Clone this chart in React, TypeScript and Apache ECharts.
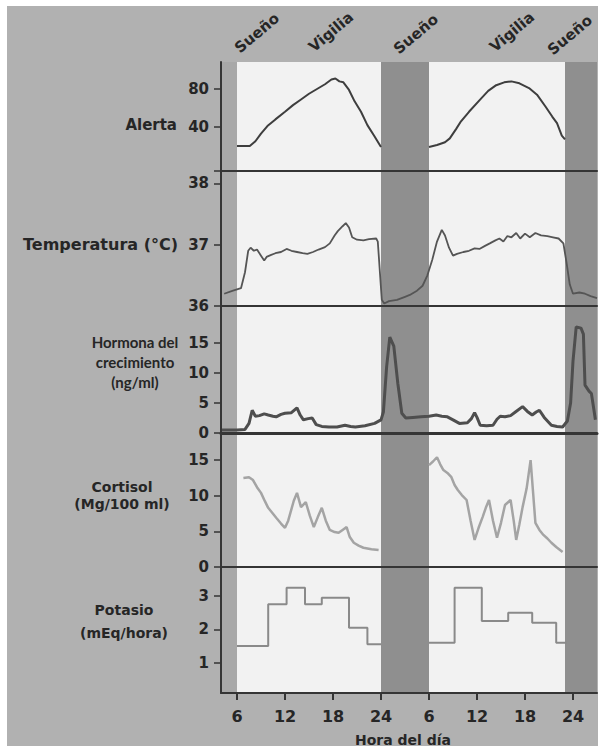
import React, { useEffect, useRef } from "react";
import * as echarts from "echarts";

// ---- data ----
const xTicks = [6, 12, 18, 24, 30, 36, 42, 48];
const wakePeriods = [[6, 24], [30, 47]];
const sleepPeriods = [[24, 30], [47, 51]];
const preWakePeriods = [[4, 6]];
const phaseLabels = ["Sueño", "Vigilia", "Sueño", "Vigilia", "Sueño"];
const panelLabels = ["Alerta", "Temperatura (°C)", "Hormona del\ncrecimiento\n(ng/ml)", "Cortisol\n(Mg/100 ml)", "Potasio\n(mEq/hora)"];
const xAxisName = "Hora del día";

const alertaTicks = [40, 80];
const tempTicks = [36, 37, 38];
const hormonaTicks = [0, 5, 10, 15];
const cortisolTicks = [0, 5, 10, 15];
const potasioTicks = [1, 2, 3];

const alertaDay1 = [[6,20],[7.6,20],[8.3,25],[9,33],[9.8,41],[10.8,48],[12,56],[13,63],[14,69],[15,75],[16,80],[17,85],[17.8,90],[18.3,91],[18.8,88],[19.3,87],[20,79],[20.7,67],[21.5,56],[22.3,42],[23.2,30],[24,19]];
const alertaDay2 = [[30,19],[31,21],[32,24],[32.6,28],[33.4,38],[34,46],[35,56],[36.3,68],[37.4,78],[38.4,84],[39.4,87],[40.3,88],[41.3,86],[42.5,81],[43.5,74],[44.6,61],[45.4,51],[46,44],[46.6,31],[47,27]];

const temperatura = [[4.4,36.2],[5.5,36.25],[6.5,36.29],[7,36.55],[7.4,36.9],[7.7,36.95],[8.1,36.9],[8.5,36.92],[9,36.82],[9.4,36.74],[9.7,36.8],[10.2,36.83],[10.8,36.86],[11.5,36.88],[12.2,36.93],[12.8,36.9],[13.5,36.88],[14.2,36.86],[14.8,36.85],[15.5,36.88],[16.2,36.92],[17,36.96],[17.6,37.02],[18.2,37.15],[18.6,37.22],[19.2,37.3],[19.6,37.35],[20,37.28],[20.4,37.12],[21,37.08],[21.8,37.07],[22.5,37.09],[23.4,37.1],[23.6,37.05],[24.1,36.1],[24.4,36.04],[25,36.08],[26,36.1],[27,36.15],[27.6,36.18],[28.5,36.25],[29.2,36.33],[29.8,36.5],[30.4,36.75],[31,37.05],[31.6,37.24],[32,37.15],[32.5,36.95],[33,36.82],[33.5,36.85],[34.3,36.88],[35,36.9],[35.7,36.94],[36.3,36.93],[37,36.98],[37.6,37.02],[38.3,37.07],[38.8,37.1],[39.3,37.05],[39.8,37.14],[40.3,37.12],[40.9,37.19],[41.4,37.1],[42,37.18],[42.6,37.12],[43.3,37.19],[44,37.15],[44.8,37.14],[45.5,37.12],[46.2,37.1],[46.8,37.02],[47.2,36.7],[47.6,36.35],[48,36.2],[48.8,36.22],[49.5,36.2],[50.2,36.16],[51,36.13]];

const hormona = [[4.1,0.5],[5,0.5],[6,0.5],[7,0.6],[7.5,1.6],[7.9,3.8],[8.3,2.8],[8.8,2.9],[9.4,3.2],[9.9,3.0],[10.5,2.8],[10.9,2.7],[11.5,3.1],[12,3.3],[12.8,3.4],[13.5,4.2],[13.9,3.0],[14.3,2.2],[14.9,2.4],[15.4,2.5],[15.9,1.4],[16.6,1.1],[17.5,1.0],[18.5,1.0],[19.5,1.3],[20.2,1.1],[20.8,1.0],[22,1.2],[23.2,1.6],[24,2.2],[24.3,3.5],[24.7,11],[25.1,16],[25.6,14.5],[26.1,8.3],[26.6,3.3],[27.1,2.5],[28,2.6],[29,2.7],[30,2.8],[30.9,3.0],[31.6,2.8],[32.3,2.7],[33,2.2],[33.8,1.6],[34.8,1.7],[35.3,2.4],[35.7,3.4],[36,2.6],[36.4,1.3],[37.2,1.2],[38,1.3],[38.5,2.3],[38.9,2.8],[39.5,2.7],[40.2,2.9],[40.8,3.5],[41.7,4.4],[42.3,3.6],[42.9,3.0],[43.4,3.5],[43.8,3.8],[44.4,2.6],[45.3,1.3],[46,1.1],[46.7,1.0],[47.3,2.0],[47.7,5],[48,12],[48.4,17.7],[49,17.5],[49.3,16.5],[49.5,8],[50,7],[50.3,6.6],[50.6,4],[50.8,2.2]];

const cortisolDay1 = [[6.8,12.5],[7.5,12.6],[8,12.2],[8.5,11.2],[9,10.4],[9.5,9.2],[9.9,8.3],[10.4,7.6],[10.9,6.9],[11.5,6.1],[12,5.5],[12.4,6.5],[12.7,7.7],[13.1,9.3],[13.5,10.4],[14,8.4],[14.6,9.1],[15.1,7.2],[15.6,5.6],[16.1,7.0],[16.6,8.3],[17.1,6.5],[17.6,5.2],[18.2,4.9],[18.7,4.8],[19.2,5.2],[19.7,5.6],[20.1,4.2],[20.6,3.4],[21.2,3.0],[21.8,2.7],[22.8,2.5],[23.7,2.4]];
const cortisolDay2 = [[30,14.3],[30.5,14.8],[31,15.4],[31.4,14.4],[31.8,13.6],[32.3,13.2],[32.8,12.6],[33.2,11.5],[33.6,10.8],[34.1,10.1],[34.7,9.4],[35.2,6.5],[35.7,3.8],[36.2,5.5],[36.7,7.0],[37.1,8.3],[37.5,9.4],[38,6.5],[38.5,4.1],[39,6.2],[39.5,8.7],[40.2,9.4],[40.6,6.4],[40.9,3.8],[41.3,6],[41.7,8.4],[42.2,11],[42.7,15],[43.3,6.2],[43.8,5.2],[44.3,4.5],[44.8,4.0],[45.3,3.4],[45.9,2.8],[46.7,2.1]];

const potasioDay1 = [[6,1.5],[9.9,2.75],[12.2,3.25],[14.5,2.75],[16.6,2.95],[20,2.05],[22.3,1.55],[24,1.55]];
const potasioDay2 = [[30,1.6],[33.2,3.25],[36.6,2.25],[39.9,2.5],[42.9,2.2],[45.9,1.6],[47.2,1.6]];

// ---- layout ----
const X_MIN = 4, X_MAX = 51;
const LEFT = 221, WIDTH = 376;
const panels = [
  { top: 62, bottom: 171, min: -6.3, max: 108.4, ticks: alertaTicks, tickMarks: [-6.3, ...alertaTicks] },
  { top: 171, bottom: 306, min: 36, max: 38.2, ticks: tempTicks, tickMarks: tempTicks },
  { top: 306, bottom: 433, min: 0, max: 21.2, ticks: hormonaTicks, tickMarks: hormonaTicks },
  { top: 433, bottom: 567, min: 0, max: 18.8, ticks: cortisolTicks, tickMarks: cortisolTicks },
  { top: 567, bottom: 693, min: 0.09, max: 3.87, ticks: potasioTicks, tickMarks: potasioTicks },
];

const WIDE = "DejaVu Sans";
const NARROW = "Lato";
const TXT = "#262626";
const WHITE = "#f2f2f2";
const DARK = "#8f8f8f";
const MID = "#a8a8a8";
const AXIS = "#353535";

function bands() {
  return [
    ...preWakePeriods.map(([a, b]) => [{ xAxis: a, itemStyle: { color: MID } }, { xAxis: b }]),
    ...wakePeriods.map(([a, b]) => [{ xAxis: a, itemStyle: { color: WHITE } }, { xAxis: b }]),
    ...sleepPeriods.map(([a, b]) => [{ xAxis: a, itemStyle: { color: DARK } }, { xAxis: b }]),
  ];
}

export default function App() {
  const ref = useRef<HTMLDivElement>(null);
  useEffect(() => {
    document.body.style.margin = "0";
    const chart = echarts.init(ref.current!, null, { renderer: "svg" });
    const grid = panels.map((p) => ({ left: LEFT, top: p.top, width: WIDTH, height: p.bottom - p.top }));
    const xAxis = panels.map((p, i) => ({
      type: "value",
      gridIndex: i,
      min: X_MIN,
      max: X_MAX,
      z: 10,
      splitLine: { show: false },
      axisLine: { show: true, onZero: false, lineStyle: { color: AXIS, width: i === 2 ? 3 : 2 } },
      axisTick: i === 4
        ? { show: true, customValues: xTicks, length: 7, lineStyle: { color: AXIS, width: 2 } }
        : { show: false },
      axisLabel: i === 4
        ? {
            show: true,
            customValues: xTicks,
            formatter: (v: number) => String(v > 24 ? v - 24 : v),
            margin: 15,
            fontSize: 16,
            fontWeight: "bold",
            fontFamily: WIDE,
            color: TXT,
          }
        : { show: false },
    }));
    const yAxis = panels.map((p, i) => ({
      type: "value",
      gridIndex: i,
      min: p.min,
      max: p.max,
      z: 10,
      splitLine: { show: false },
      axisLine: { show: true, lineStyle: { color: AXIS, width: 2 } },
      axisTick: { show: true, customValues: p.tickMarks, length: 7, lineStyle: { color: AXIS, width: 1.5 } },
      axisLabel: {
        show: true,
        customValues: p.ticks,
        margin: 12,
        fontSize: 15,
        fontWeight: "bold",
        fontFamily: WIDE,
        color: TXT,
      },
    }));
    const line = (i: number, data: number[][], color: string, width: number, extra: any = {}) => ({
      type: "line",
      xAxisIndex: i,
      yAxisIndex: i,
      data,
      showSymbol: false,
      silent: true,
      lineStyle: { color, width },
      z: 3,
      ...extra,
    });
    const bg = () => ({ markArea: { silent: true, data: bands() } });
    const series = [
      line(0, alertaDay1, "#3e3e3e", 2, bg()),
      line(0, alertaDay2, "#3e3e3e", 2),
      line(1, temperatura, "#555555", 1.8, bg()),
      line(2, hormona, "#4e4e4e", 3, bg()),
      line(3, cortisolDay1, "#a4a4a4", 2.5, bg()),
      line(3, cortisolDay2, "#a4a4a4", 2.5),
      line(4, potasioDay1, "#8a8a8a", 2, { step: "end", ...bg() }),
      line(4, potasioDay2, "#8a8a8a", 2, { step: "end" }),
    ];
    const phasePos = [[257, 33], [331, 32], [416, 34], [512, 32], [570, 35]];
    const labelPos = [
      { x: 177, y: 125, align: "right", lh: 18, font: WIDE, size: 15, weight: "bold" },
      { x: 178, y: 244, align: "right", lh: 18, font: WIDE, size: 16, weight: "bold" },
      { x: 135, y: 362, align: "center", lh: 20, font: NARROW, size: 15, weight: "bold" },
      { x: 122, y: 495, align: "center", lh: 17, font: WIDE, size: 14, weight: "bold" },
      { x: 124, y: 621, align: "center", lh: 23, font: WIDE, size: 14, weight: "bold" },
    ];
    const graphic = [
      ...phaseLabels.map((t, i) => ({
        type: "text",
        x: phasePos[i][0],
        y: phasePos[i][1],
        rotation: 0.7,
        style: {
          text: t,
          fontSize: 15,
          fontWeight: "bold",
          fontFamily: WIDE,
          fill: TXT,
          textAlign: "center",
          textVerticalAlign: "middle",
        },
      })),
      ...panelLabels.map((t, i) => ({
        type: "text",
        x: labelPos[i].x,
        y: labelPos[i].y,
        style: {
          text: t,
          fontSize: labelPos[i].size,
          fontWeight: labelPos[i].weight,
          fontFamily: labelPos[i].font,
          fill: TXT,
          textAlign: labelPos[i].align,
          textVerticalAlign: "middle",
          lineHeight: labelPos[i].lh,
        },
      })),
      {
        type: "text",
        x: 403,
        y: 740,
        style: {
          text: xAxisName,
          fontSize: 14,
          fontWeight: "bold",
          fontFamily: WIDE,
          fill: TXT,
          textAlign: "center",
          textVerticalAlign: "middle",
        },
      },
    ];
    chart.setOption({ animation: false, grid, xAxis, yAxis, series, graphic });
    return () => chart.dispose();
  }, []);
  return (
    <div style={{ position: "fixed", left: 0, top: 0, width: 601, height: 751, background: "#ffffff" }}>
      <div style={{ position: "absolute", left: 7, top: 6, width: 591, height: 740, background: "#b1b1b1" }} />
      <div ref={ref} style={{ position: "absolute", left: 0, top: 0, width: 601, height: 751 }} />
    </div>
  );
}
